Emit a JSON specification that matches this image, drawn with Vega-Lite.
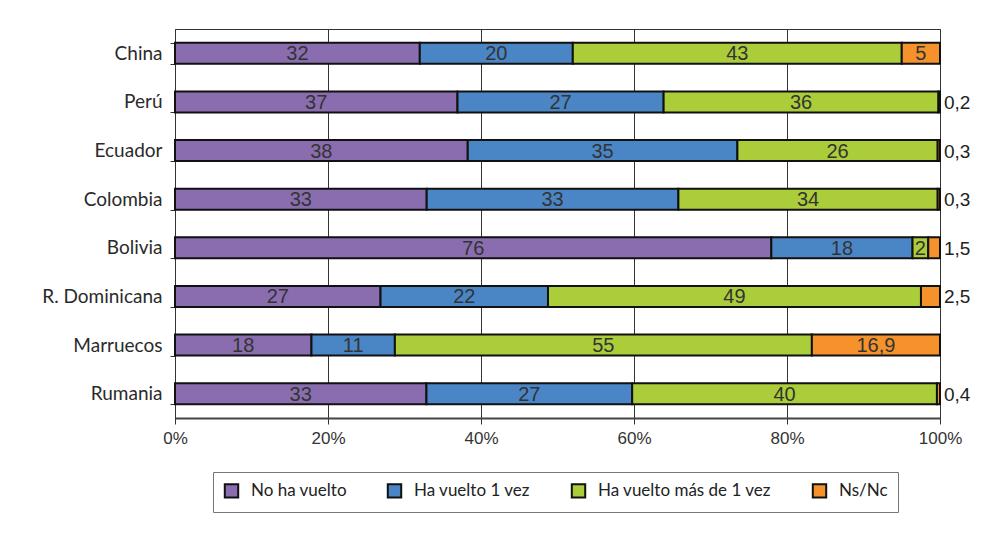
{
  "$schema": "https://vega.github.io/schema/vega-lite/v6.json",
  "width": 765,
  "height": 389,
  "autosize": {"type": "none"},
  "padding": {"left": 175, "top": 29, "right": 45, "bottom": 115},
  "background": "white",
  "config": {
    "view": {"stroke": "#333", "strokeWidth": 1},
    "font": "Liberation Sans"
  },
  "data": {
    "values": [
      {"country": "China", "cat": "No ha vuelto", "value": 32},
      {"country": "China", "cat": "Ha vuelto 1 vez", "value": 20},
      {"country": "China", "cat": "Ha vuelto más de 1 vez", "value": 43},
      {"country": "China", "cat": "Ns/Nc", "value": 5},
      {"country": "Perú", "cat": "No ha vuelto", "value": 37},
      {"country": "Perú", "cat": "Ha vuelto 1 vez", "value": 27},
      {"country": "Perú", "cat": "Ha vuelto más de 1 vez", "value": 36},
      {"country": "Perú", "cat": "Ns/Nc", "value": 0.2},
      {"country": "Ecuador", "cat": "No ha vuelto", "value": 38},
      {"country": "Ecuador", "cat": "Ha vuelto 1 vez", "value": 35},
      {"country": "Ecuador", "cat": "Ha vuelto más de 1 vez", "value": 26},
      {"country": "Ecuador", "cat": "Ns/Nc", "value": 0.3},
      {"country": "Colombia", "cat": "No ha vuelto", "value": 33},
      {"country": "Colombia", "cat": "Ha vuelto 1 vez", "value": 33},
      {"country": "Colombia", "cat": "Ha vuelto más de 1 vez", "value": 34},
      {"country": "Colombia", "cat": "Ns/Nc", "value": 0.3},
      {"country": "Bolivia", "cat": "No ha vuelto", "value": 76},
      {"country": "Bolivia", "cat": "Ha vuelto 1 vez", "value": 18},
      {"country": "Bolivia", "cat": "Ha vuelto más de 1 vez", "value": 2},
      {"country": "Bolivia", "cat": "Ns/Nc", "value": 1.5},
      {"country": "R. Dominicana", "cat": "No ha vuelto", "value": 27},
      {"country": "R. Dominicana", "cat": "Ha vuelto 1 vez", "value": 22},
      {"country": "R. Dominicana", "cat": "Ha vuelto más de 1 vez", "value": 49},
      {"country": "R. Dominicana", "cat": "Ns/Nc", "value": 2.5},
      {"country": "Marruecos", "cat": "No ha vuelto", "value": 18},
      {"country": "Marruecos", "cat": "Ha vuelto 1 vez", "value": 11},
      {"country": "Marruecos", "cat": "Ha vuelto más de 1 vez", "value": 55},
      {"country": "Marruecos", "cat": "Ns/Nc", "value": 16.9},
      {"country": "Rumania", "cat": "No ha vuelto", "value": 33},
      {"country": "Rumania", "cat": "Ha vuelto 1 vez", "value": 27},
      {"country": "Rumania", "cat": "Ha vuelto más de 1 vez", "value": 40},
      {"country": "Rumania", "cat": "Ns/Nc", "value": 0.4}
    ]
  },
  "transform": [
    {"calculate": "indexof(['No ha vuelto','Ha vuelto 1 vez','Ha vuelto más de 1 vez','Ns/Nc'], datum.cat)", "as": "ord"},
    {"stack": "value", "groupby": ["country"], "sort": [{"field": "ord", "order": "ascending"}], "offset": "normalize", "as": ["x0", "x1"]},
    {"calculate": "(datum.x0 + datum.x1) / 2", "as": "xm"},
    {"calculate": "replace(toString(datum.value), '.', ',')", "as": "label"}
  ],
  "encoding": {
    "y": {
      "field": "country",
      "type": "nominal",
      "sort": ["China", "Perú", "Ecuador", "Colombia", "Bolivia", "R. Dominicana", "Marruecos", "Rumania"],
      "scale": {"paddingInner": 0.57, "paddingOuter": 0.285},
      "axis": {
        "title": null,
        "labelFont": "Lato",
        "labelFontSize": 19,
        "labelFontWeight": "normal",
        "labelColor": "#2a2a2a",
        "labelPadding": 8,
        "labelLimit": 300,
        "tickBand": "extent",
        "tickColor": "#333",
        "tickSize": 5,
        "domainColor": "#333",
        "grid": false
      }
    }
  },
  "layer": [
    {
      "mark": {"type": "bar", "stroke": "#111", "strokeWidth": 2},
      "encoding": {
        "x": {
          "field": "x0",
          "type": "quantitative",
          "scale": {"domain": [0, 1], "nice": false},
          "axis": {
            "title": null,
            "values": [0, 0.2, 0.4, 0.6, 0.8, 1],
            "format": ".0%",
            "labelFlush": false,
            "labelFontSize": 17,
            "labelColor": "#333",
            "labelPadding": 6,
            "grid": true,
            "gridColor": "#333",
            "gridWidth": 1,
            "tickColor": "#333",
            "tickSize": 6,
            "domainColor": "#444",
            "domainWidth": 2
          }
        },
        "x2": {"field": "x1"},
        "color": {
          "field": "cat",
          "type": "nominal",
          "scale": {
            "domain": ["No ha vuelto", "Ha vuelto 1 vez", "Ha vuelto más de 1 vez", "Ns/Nc"],
            "range": ["#8A6DAF", "#4A86C6", "#ABCD3A", "#F5922B"]
          },
          "legend": {
            "orient": "none",
            "legendX": 38,
            "legendY": 443,
            "direction": "horizontal",
            "title": null,
            "strokeColor": "#777",
            "padding": 10,
            "symbolType": "square",
            "symbolSize": 180,
            "symbolStrokeColor": "#111",
            "symbolStrokeWidth": 2,
            "symbolOpacity": 1,
            "labelFont": "Lato",
            "labelFontSize": 17,
            "labelColor": "#222",
            "labelOffset": 11,
            "labelLimit": 400,
            "columnPadding": 36
          }
        }
      }
    },
    {
      "transform": [{"filter": "datum.cat != 'Ns/Nc' || datum.value >= 3"}],
      "mark": {"type": "text", "fontSize": 20, "color": "#333", "baseline": "middle", "dy": 1},
      "encoding": {
        "x": {"field": "xm", "type": "quantitative"},
        "text": {"field": "label"}
      }
    },
    {
      "transform": [{"filter": "datum.cat == 'Ns/Nc' && datum.value < 3"}],
      "mark": {"type": "text", "fontSize": 19, "color": "#222", "baseline": "middle", "align": "left", "dx": 4, "dy": 1},
      "encoding": {
        "x": {"field": "x1", "type": "quantitative"},
        "text": {"field": "label"}
      }
    }
  ]
}
